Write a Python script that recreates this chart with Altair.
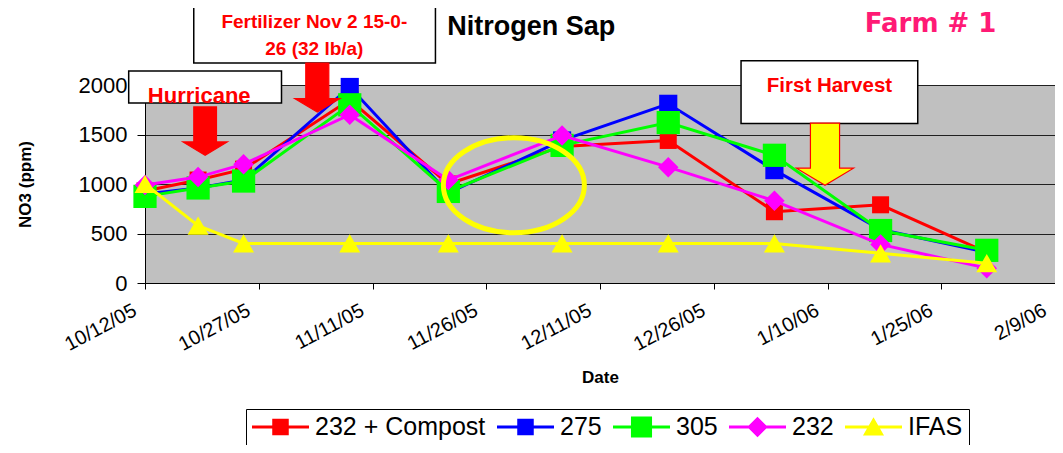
import altair as alt
import pandas as pd

# ---------------- data ----------------
dates = ["2005-10-12", "2005-10-19", "2005-10-25", "2005-11-08", "2005-11-21",
         "2005-12-06", "2005-12-20", "2006-01-03", "2006-01-17", "2006-01-31"]
series_names = ["232 + Compost", "275", "305", "232", "IFAS"]
compost_232 = [930, 1040, 1150, 1850, 1000, 1380, 1440, 720, 790, 310]
n_275 = [900, 960, 1040, 1980, 910, 1440, 1810, 1140, 540, 310]
n_305 = [875, 960, 1030, 1800, 925, 1390, 1620, 1290, 530, 330]
n_232 = [990, 1070, 1200, 1700, 1040, 1490, 1170, 830, 390, 150]
ifas = [1000, 580, 400, 400, 400, 400, 400, 400, 300, 200]
tick_labels = ["10/12/05", "10/27/05", "11/11/05", "11/26/05", "12/11/05",
               "12/26/05", "1/10/06", "1/25/06", "2/9/06"]
y_ticks = [0, 500, 1000, 1500, 2000]

# annotation texts / anchors (in data units: days since first date, ppm)
note_text = ["Hurricane", "Fertilizer Nov 2 15-0-", "26 (32 lb/a)", "First Harvest"]
note_day = [7.15, 22.33, 22.33, 90.26]
note_val = [1815, 2574, 2304, 1932]
note_fs = [22, 19, 19, 20.5]

box_x0 = [-2.15, 6.43, 78.6]
box_x1 = [18.0, 38.3, 101.9]
box_y0 = [1818, 2223, 1612]
box_y1 = [2142, 2798, 2246]

arrow_day = [7.93, 22.72, 89.67]
arrow_val = [1535, 1975, 1301]
arrow_size = [2333, 2401, 3844]
arrow_fill = ["#FF0000", "#FF0000", "#FFFF00"]

# ---------------- styles ----------------
colors = ["#FF0000", "#0000FF", "#00FF00", "#FF00FF", "#FFFF00"]
shapes = ["square", "square", "square", "diamond", "triangle-up"]
sizes = [290, 330, 540, 420, 440]
LINE = "M-1,-0.055L1,-0.055L1,0.055L-1,0.055Z"
legend_paths = [
    LINE + "M-0.29,-0.29L0.29,-0.29L0.29,0.29L-0.29,0.29Z",
    LINE + "M-0.29,-0.29L0.29,-0.29L0.29,0.29L-0.29,0.29Z",
    LINE + "M-0.37,-0.37L0.37,-0.37L0.37,0.37L-0.37,0.37Z",
    LINE + "M0,-0.36L0.36,0L0,0.36L-0.36,0Z",
    LINE + "M0,-0.34L0.37,0.3L-0.37,0.3Z",
]
ARROW = "M-0.47,-1L0.47,-1L0.47,0.45L0.92,0.45L0,1L-0.92,0.45L-0.47,0.45Z"
ELLIPSE = "M-1,0A1,0.674 0 1,1 1,0A1,0.674 0 1,1 -1,0Z"
FONT = "Liberation Sans"

# ---------------- tables ----------------
start = pd.Timestamp(dates[0])
days = [(pd.Timestamp(d) - start).days for d in dates]
tick_days = [int((pd.to_datetime(t, format="%m/%d/%y") - start).days) for t in tick_labels]

values = [compost_232, n_275, n_305, n_232, ifas]
rows = []
for name, vals in zip(series_names, values):
    for d, v in zip(days, vals):
        rows.append({"series": name, "day": d, "value": v})
df = pd.DataFrame(rows)

notes = pd.DataFrame({"day": note_day, "value": note_val, "label": note_text, "fs": note_fs})
boxes = pd.DataFrame({"day": box_x0, "day2": box_x1, "value": box_y0, "value2": box_y1})
arrows = pd.DataFrame({"day": arrow_day, "value": arrow_val, "sz": arrow_size, "fill": arrow_fill})
ellipse = pd.DataFrame({"day": [48.64], "value": [987]})
titles = pd.DataFrame({"day": [50.93], "value": [2506], "label": ["Nitrogen Sap"]})
farm = pd.DataFrame({"day": [103.6], "value": [2535], "label": ["Farm # 1"]})

label_expr = "[" + ",".join(f"'{t}'" for t in tick_labels) + "][indexof([" + \
    ",".join(str(d) for d in tick_days) + "], datum.value)]"

xscale = alt.Scale(domain=[0, 120], nice=False, zero=False)
yscale = alt.Scale(domain=[0, 2000], nice=False)
xaxis = alt.Axis(values=tick_days, labelExpr=label_expr, title="Date", grid=False,
                 labelAngle=-28, labelAlign="right", labelBaseline="top", labelFontSize=20,
                 labelPadding=11, labelOffset=-15, tickSize=6, tickColor="black",
                 domainColor="black", labelColor="black", titleColor="black",
                 titleFontSize=17, titleFontWeight="bold", titlePadding=15,
                 labelFont=FONT, titleFont=FONT, labelOverlap=False, labelFlush=False,
                 labelBound=False)
yaxis = alt.Axis(values=y_ticks, format="d", title="NO3 (ppm)", grid=True, gridColor="#202020",
                 gridWidth=1, tickSize=8, tickColor="black", domainColor="black",
                 labelFontSize=22, labelPadding=10, labelColor="black", titleColor="black",
                 titleFontSize=17, titleFontWeight="bold", titlePadding=44,
                 labelFont=FONT, titleFont=FONT)
X = alt.X("day:Q", scale=xscale, axis=xaxis)
Y = alt.Y("value:Q", scale=yscale, axis=yaxis)

layers = []
base = alt.Chart(df)
for name, c, shp, sz in zip(series_names, colors, shapes, sizes):
    sel = base.transform_filter(alt.datum.series == name)
    layers.append(sel.mark_line(color=c, strokeWidth=3).encode(x=X, y=Y))
    layers.append(sel.mark_point(shape=shp, size=sz, filled=True, color=c, opacity=1,
                                 strokeWidth=0).encode(x=X, y=Y))

layers.append(alt.Chart(boxes).mark_rect(fill="white", stroke="black", strokeWidth=1.5)
              .encode(x=X, x2="day2:Q", y=Y, y2="value2:Q"))
layers.append(alt.Chart(arrows).mark_point(shape=ARROW, filled=True, opacity=1,
                                           stroke="#FF0000", strokeWidth=1.2)
              .encode(x=X, y=Y, size=alt.Size("sz:Q", scale=None),
                      fill=alt.Fill("fill:N", scale=None)))
layers.append(alt.Chart(notes).mark_text(font=FONT, fontWeight="bold", color="#FF0000",
                                         align="center", baseline="alphabetic")
              .encode(x=X, y=Y, text="label:N", size=alt.Size("fs:Q", scale=None)))
layers.append(alt.Chart(ellipse).mark_point(shape=ELLIPSE, size=19881, filled=False,
                                            color="#FFFF00", strokeWidth=5, opacity=1)
              .encode(x=X, y=Y))
layers.append(alt.Chart(titles).mark_text(font=FONT, fontWeight="bold", fontSize=27,
                                          color="black", align="center", baseline="alphabetic")
              .encode(x=X, y=Y, text="label:N"))
layers.append(alt.Chart(farm).mark_text(font="DejaVu Sans", fontWeight="bold", fontSize=26,
                                        color="#FF1A75", align="center", baseline="alphabetic")
              .encode(x=X, y=Y, text="label:N"))

legend = alt.Legend(orient="none", legendX=101, legendY=324, direction="horizontal",
                    title=None, symbolSize=3249, clipHeight=24, labelOffset=6,
                    columnPadding=11, padding=6, strokeColor="black", fillColor="white",
                    labelFont=FONT, labelFontSize=25, labelColor="black", labelLimit=400,
                    symbolStrokeWidth=0, symbolOpacity=1)
layers.append(base.transform_filter("false").mark_point(filled=True, opacity=1)
              .encode(x=X, y=Y,
                      color=alt.Color("series:N", scale=alt.Scale(domain=series_names, range=colors),
                                      legend=legend),
                      shape=alt.Shape("series:N", scale=alt.Scale(domain=series_names, range=legend_paths),
                                      legend=legend)))

chart = alt.layer(*layers).properties(
    width=910, height=198,
    padding={"left": 137, "top": 77, "right": 0, "bottom": 162},
    autosize=alt.AutoSizeParams(type="none"),
    background="white",
).configure_view(fill="#C0C0C0", stroke="#808080", strokeWidth=1)

chart.save("out.html", embed_options={"renderer": "svg", "actions": False})
